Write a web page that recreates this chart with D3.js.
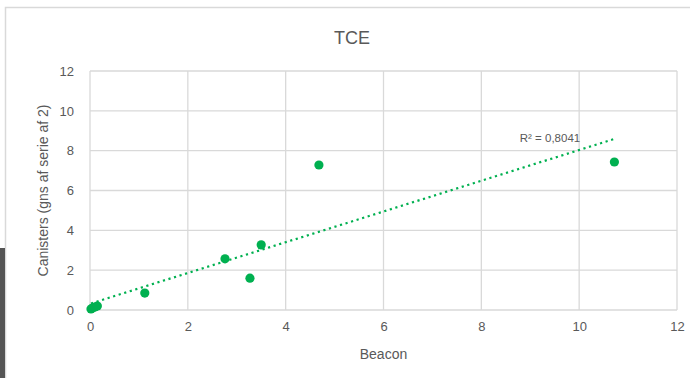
<!DOCTYPE html>
<html><head><meta charset="utf-8">
<script src="https://cdn.jsdelivr.net/npm/d3@7"></script>
<style>body{margin:0;background:#fff;}svg{display:block;}</style>
</head><body>
<svg id="c" width="690" height="378"></svg>
<script>
const title = "TCE";
const xLabel = "Beacon";
const yLabel = "Canisters (gns af serie af 2)";
const beacon = [0.02, 0.05, 0.1, 0.15, 1.12, 2.76, 3.27, 3.5, 4.68, 10.72];
const canisters = [0.05, 0.1, 0.15, 0.2, 0.85, 2.57, 1.6, 3.27, 7.28, 7.43];
const xTicks = [0, 2, 4, 6, 8, 10, 12];
const yTicks = [0, 2, 4, 6, 8, 10, 12];
const r2Label = "R² = 0,8041";

const svg = d3.select("#c");
const font = "'Liberation Sans', Arial, sans-serif";
const grey = "#595959";

// frame
svg.append("rect").attr("x", 5.5).attr("y", 7.5).attr("width", 700).attr("height", 400)
  .attr("fill", "#fff").attr("stroke", "#d9d9d9").attr("stroke-width", 1.5);
svg.append("rect").attr("x", 0).attr("y", 248).attr("width", 5).attr("height", 130).attr("fill", "#555");

const x = d3.scaleLinear().domain([0, 12]).range([90, 677]);
const y = d3.scaleLinear().domain([0, 12]).range([310, 71]);

// grid
svg.append("g").selectAll("line").data(xTicks).join("line")
  .attr("x1", d => x(d)).attr("x2", d => x(d)).attr("y1", y(12)).attr("y2", y(0))
  .attr("stroke", "#d9d9d9").attr("stroke-width", 1.3);
svg.append("g").selectAll("line").data(yTicks).join("line")
  .attr("x1", x(0)).attr("x2", x(12)).attr("y1", d => y(d)).attr("y2", d => y(d))
  .attr("stroke", "#d9d9d9").attr("stroke-width", 1.3);

// axes labels via d3 axes
const xAxis = svg.append("g").attr("transform", `translate(0,${y(0)})`)
  .call(d3.axisBottom(x).tickValues(xTicks).tickSize(0).tickPadding(12));
const yAxis = svg.append("g").attr("transform", `translate(${x(0)},0)`)
  .call(d3.axisLeft(y).tickValues(yTicks).tickSize(0).tickPadding(16));
[xAxis, yAxis].forEach(a => {
  a.select(".domain").remove();
  a.selectAll("text").attr("fill", grey).style("font-family", font).style("font-size", "13px");
});

// regression
const n = beacon.length;
const mx = d3.mean(beacon), my = d3.mean(canisters);
let sxy = 0, sxx = 0;
for (let i = 0; i < n; i++) { sxy += (beacon[i]-mx)*(canisters[i]-my); sxx += (beacon[i]-mx)**2; }
const slope = sxy / sxx, icpt = my - slope * mx;
const [x0, x1] = d3.extent(beacon);
svg.append("line")
  .attr("x1", x(x0)).attr("y1", y(icpt + slope*x0))
  .attr("x2", x(x1)).attr("y2", y(icpt + slope*x1))
  .attr("stroke", "#00b050").attr("stroke-width", 2.2).attr("stroke-dasharray", "2.2,3.6");

// points
svg.append("g").selectAll("circle").data(beacon.map((b, i) => [b, canisters[i]])).join("circle")
  .attr("cx", d => x(d[0])).attr("cy", d => y(d[1])).attr("r", 4.6).attr("fill", "#00b050");

// texts
svg.append("text").attr("x", 352).attr("y", 44).attr("text-anchor", "middle")
  .attr("fill", grey).style("font-family", font).style("font-size", "18px").text(title);
svg.append("text").attr("x", x(6)).attr("y", 359).attr("text-anchor", "middle")
  .attr("fill", grey).style("font-family", font).style("font-size", "14px").text(xLabel);
svg.append("text").attr("transform", `translate(48,${y(6)}) rotate(-90)`).attr("text-anchor", "middle")
  .attr("fill", grey).style("font-family", font).style("font-size", "14px").text(yLabel);
svg.append("text").attr("x", 550).attr("y", 142).attr("text-anchor", "middle")
  .attr("fill", grey).style("font-family", font).style("font-size", "11.5px").text(r2Label);
</script>
</body></html>
